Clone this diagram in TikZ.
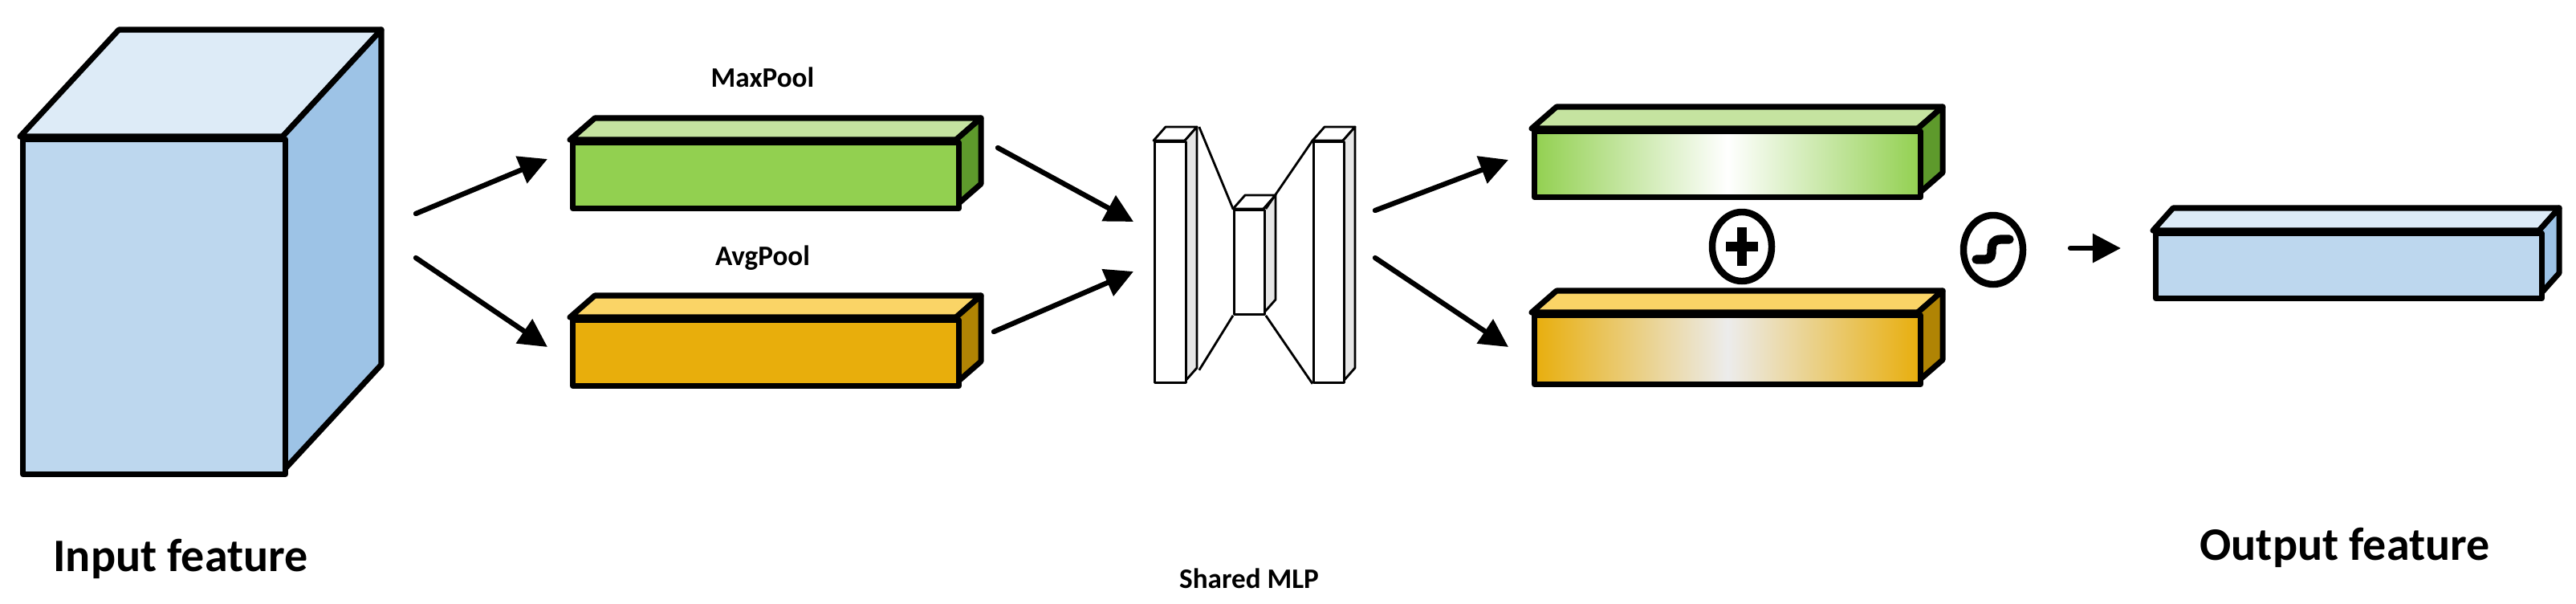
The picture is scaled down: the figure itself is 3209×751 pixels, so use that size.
\documentclass[tikz,border=0pt]{standalone}
\usepackage{fontspec}
\setmainfont{Carlito}
\usetikzlibrary{arrows.meta,shapes.geometric}

\definecolor{bluF}{HTML}{BDD7EE}
\definecolor{bluT}{HTML}{DDEBF7}
\definecolor{bluS}{HTML}{9DC3E6}
\definecolor{grnF}{HTML}{92D050}
\definecolor{grnT}{HTML}{C5E3A0}
\definecolor{grnS}{HTML}{5E9A2C}
\definecolor{orgF}{HTML}{E8AE0C}
\definecolor{orgT}{HTML}{FAD466}
\definecolor{orgS}{HTML}{B08404}
\definecolor{mlpF}{HTML}{FFFFFF}
\definecolor{mlpT}{HTML}{FFFFFF}
\definecolor{mlpS}{HTML}{E6E6E6}

% name, x, y, width, height, dx, dy, colour prefix, front style
\newcommand\cuboid[9]{%
  \filldraw[#8T,draw=black,slab] (#2,#3) -- ++(#6,#7) -- ++(#4,0) -- ++(-#6,-#7) -- cycle;
  \filldraw[#8S,draw=black,slab] ({#2+#4},#3) -- ++(#6,#7) -- ++(0,#5) -- ++(-#6,-#7) -- cycle;
  \node[#9,draw=black,slab,inner sep=0pt,minimum width=#4*0.01cm,minimum height=#5*0.01cm,anchor=north west] (#1) at (#2,#3) {};
}

\begin{document}
\begin{tikzpicture}[x=0.01cm,y=-0.01cm,
    slab/.style ={line width=2pt, line join=round},
    arr/.style ={line width=1.8pt, line cap=round, -{Triangle[length=10pt,width=10pt]}},
    title/.style ={font=\bfseries\fontsize{16.5}{19}\selectfont},
    small/.style ={font=\bfseries\fontsize{10}{12}\selectfont},
    op/.style ={ellipse, draw, line width=2.4pt, minimum width=0.74cm, minimum height=0.86cm, inner sep=0pt}]
  \useasboundingbox (0,0) rectangle (3209,751);

  % input, pooled vectors
  \cuboid{inp}{25}{170}{327}{417}{123}{-133}{blu}{fill=bluF}
  \cuboid{maxp}{710}{174}{481}{82}{31}{-27}{grn}{fill=grnF}
  \cuboid{avgp}{710}{395}{481}{82}{31}{-27}{org}{fill=orgF}
  \node[small] (lmax) at (950,96) {MaxPool};
  \node[small] (lavg) at (950,321) {AvgPool};

  % shared MLP
  \begin{scope}[slab/.style={line width=0.8pt, line join=round}]
    \cuboid{m1}{1437}{175}{39}{300}{15}{-17}{mlp}{fill=mlpF}
    \cuboid{m2}{1536}{260}{38}{130}{15}{-17}{mlp}{fill=mlpF}
    \cuboid{m3}{1635}{175}{38}{300}{15}{-17}{mlp}{fill=mlpF}
    \draw[slab] ([shift={(15,-17)}]m1.north east) -- (m2.north west);
    \draw[slab] ([shift={(15,-17)}]m1.south east) -- (m2.south west);
    \draw[slab] (m2.north east) -- (m3.north west);
    \draw[slab] (m2.south east) -- (m3.south west);
  \end{scope}
  \node[small] (lmlp) at (1556,720) {Shared MLP};

  % MLP outputs
  \cuboid{omax}{1908}{160}{481}{82}{31}{-27}{grn}{left color=grnF,right color=grnF,middle color=white}
  \cuboid{oavg}{1908}{389}{481}{86}{31}{-27}{org}{left color=orgF,right color=orgF,middle color=white!85!gray}

  \node[op] (plus) at (2170,307) {};
  \draw[line width=3.2pt] ([xshift=-0.2cm]plus.center) -- ([xshift=0.2cm]plus.center);
  \draw[line width=3.2pt] ([yshift=-0.24cm]plus.center) -- ([yshift=0.24cm]plus.center);
  \node[op] (sig) at (2483,311) {};
  \draw[line width=3.2pt, line cap=round] (2462,323) -- (2472,323) .. controls (2481,323) and (2481,317) .. (2481,311)
    .. controls (2481,304) and (2483,298) .. (2493,298) -- (2503,298);

  % output
  \cuboid{outp}{2682}{287}{481}{81}{25}{-28}{blu}{fill=bluF}

  \coordinate (a1) at (518,266);
  \coordinate (a2) at (518,321);
  \coordinate (a3) at (1243,184);
  \coordinate (a4) at (1238,413);
  \coordinate (a5) at (1713,262);
  \coordinate (a6) at (1713,321);
  \coordinate (a7) at (2579,309);
  \draw[arr] (a1) -- ([shift={(-28,24)}]maxp.north west);
  \draw[arr] (a2) -- ([shift={(-28,37)}]avgp.north west);
  \draw[arr] (a3) -- ([shift={(-25,101)}]m1.north west);
  \draw[arr] (a4) -- ([shift={(-25,163)}]m1.north west);
  \draw[arr] (a5) -- ([shift={(-29,39)}]omax.north west);
  \draw[arr] (a6) -- ([shift={(-29,43)}]oavg.north west);
  \draw[arr] (a7) -- ([xshift=-0.4cm]outp.west |- a7);

  \node[title] (lin) at (225,696) {Input feature};
  \node[title] (lout) at (2921,682) {Output feature};
\end{tikzpicture}
\end{document}
